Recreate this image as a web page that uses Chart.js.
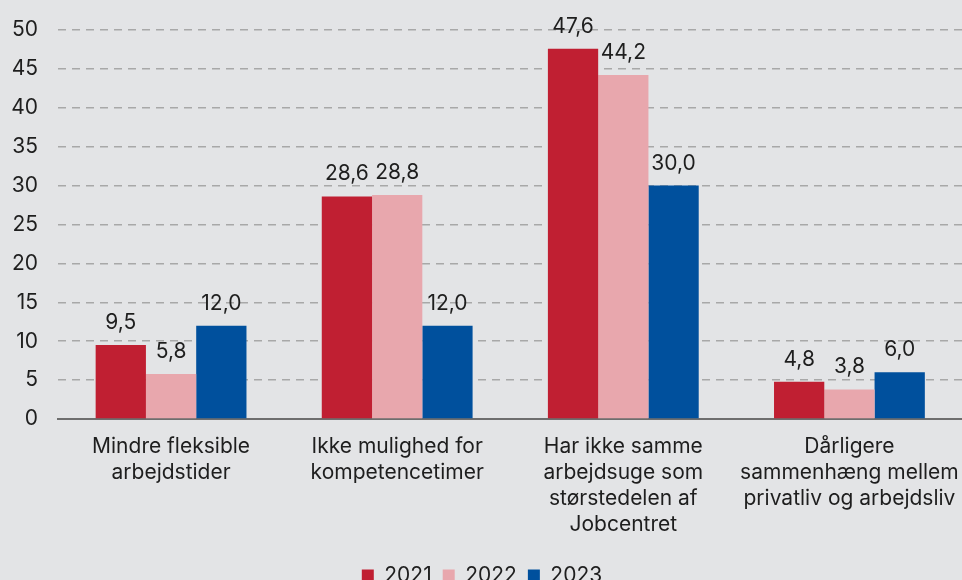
<!DOCTYPE html>
<html>
<head>
<meta charset="utf-8">
<script src="https://cdn.jsdelivr.net/npm/chart.js@4.4.1/dist/chart.umd.min.js"></script>
<style>
  html, body { margin: 0; padding: 0; background: #e3e4e6; overflow: hidden; }
  #wrap { position: absolute; left: 0; top: 0; width: 966px; height: 596px; }
</style>
</head>
<body>
<div id="wrap"><canvas id="chart"></canvas></div>
<script>
const categories = [
  ["Mindre fleksible", "arbejdstider"],
  ["Ikke mulighed for", "kompetencetimer"],
  ["Har ikke samme", "arbejdsuge som", "størstedelen af", "Jobcentret"],
  ["Dårligere", "sammenhæng mellem", "privatliv og arbejdsliv"],
];
const years = ["2021", "2022", "2023"];
const values2021 = [9.5, 28.6, 47.6, 4.8];
const values2022 = [5.8, 28.8, 44.2, 3.8];
const values2023 = [12.0, 12.0, 30.0, 6.0];
const colors = ["#c01f32", "#e8a7ad", "#00509d"];

const font = { family: "Inter, 'Noto Sans', sans-serif", size: 21 };

// value labels above each bar, Danish decimal comma
const barLabels = {
  id: "barLabels",
  afterDatasetsDraw(chart) {
    const ctx = chart.ctx;
    ctx.save();
    ctx.font = font.size + "px " + font.family;
    ctx.fillStyle = "#1e1e1e";
    ctx.textAlign = "center";
    ctx.textBaseline = "alphabetic";
    chart.data.datasets.forEach((ds, i) => {
      chart.getDatasetMeta(i).data.forEach((bar, j) => {
        const txt = ds.data[j].toFixed(1).replace(".", ",");
        ctx.fillText(txt, bar.x, bar.y - 16);
      });
    });
    ctx.restore();
  },
};

new Chart(document.getElementById("chart"), {
  type: "bar",
  data: {
    labels: categories,
    datasets: [
      { label: years[0], data: values2021, backgroundColor: colors[0] },
      { label: years[1], data: values2022, backgroundColor: colors[1] },
      { label: years[2], data: values2023, backgroundColor: colors[2] },
    ],
  },
  options: {
    responsive: true,
    maintainAspectRatio: false,
    animation: false,
    categoryPercentage: 0.667,
    barPercentage: 1,
    layout: { padding: { left: 0, top: 30, right: 2, bottom: 0 } },
    plugins: {
      tooltip: { enabled: false },
      legend: {
        position: "bottom",
        labels: {
          font: font,
          color: "#1e1e1e",
          boxWidth: 12,
          boxHeight: 12,
          padding: 11,
        },
      },
    },
    scales: {
      x: {
        grid: { display: false },
        border: { display: true, color: "#6e6e6e", width: 2 },
        ticks: { font: { ...font, lineHeight: 1.238 }, color: "#1e1e1e", padding: 7, maxRotation: 0, autoSkip: false },
        afterFit(scale) { scale.height += 9; },
      },
      y: {
        min: 0,
        max: 50,
        ticks: { stepSize: 5, font: font, color: "#1e1e1e", padding: 20 },
        grid: {
          drawTicks: false,
          color: (c) => (c.tick && c.tick.value === 0 ? "rgba(0,0,0,0)" : "#a8a8a8"),
          lineWidth: 1.5,
        },
        border: { display: false, dash: [8, 6] },
        afterFit(scale) {
          scale.width = 58;
          scale.paddingTop = 0;
          scale.paddingBottom = 0;
        },
      },
    },
  },
  plugins: [barLabels],
});
</script>
</body>
</html>
